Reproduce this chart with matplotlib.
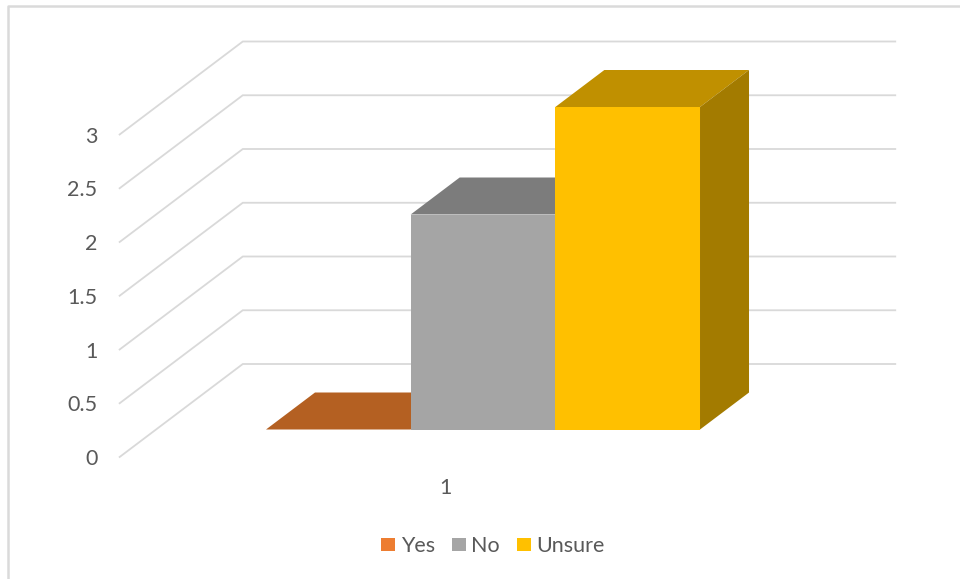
import matplotlib.pyplot as plt
from matplotlib.patches import Patch, Polygon

# ── data ──────────────────────────────────────────────────────────────────────
series = ["Yes", "No", "Unsure"]
values = [0, 2, 3]
category = "1"
ticks = [0, 0.5, 1, 1.5, 2, 2.5, 3]
tick_labels = ["0", "0.5", "1", "1.5", "2", "2.5", "3"]

front_colors = ["#ED7D31", "#A5A5A5", "#FFC000"]
top_colors = ["#B46022", "#7C7C7C", "#C09000"]
side_colors = ["#8E4B1C", "#636363", "#A37B00"]

GRID = "#D9D9D9"
TEXT = "#595959"

# ── scale: 1 bar = 144.67 px, 1 value unit = 107.5 px ─────────────────────────
X_UNIT = 144.67
Y_UNIT = 107.5
X0, Y0 = 266, 429.5
DEPTH_X = 49 / X_UNIT
DEPTH_Y = 37 / Y_UNIT


def project(x, v, d=0):
    # d = 1 is the depth of a bar, d = 0 its front face
    return x + d * DEPTH_X, v + d * DEPTH_Y


plt.rcParams["font.family"] = ["Lato", "DejaVu Sans"]

fig = plt.figure(figsize=(9.6, 5.79), dpi=100)
ax = fig.add_axes([0, 0, 1, 1])
ax.set_xlim(-X0 / X_UNIT, (960 - X0) / X_UNIT)
ax.set_ylim((Y0 - 579) / Y_UNIT, Y0 / Y_UNIT)
ax.axis("off")

# ── chart border (left and top only show in the picture) ──────────────────────
ax.plot([0.0085, 0.0085, 1], [0, 0.9895, 0.9895], transform=ax.transAxes,
        color="#DADADA", lw=1.8, clip_on=False, zorder=1)

# ── walls ─────────────────────────────────────────────────────────────────────
WALL_LEFT, WALL_RIGHT = -0.76, 3.75
D_FRONT, D_BACK = -0.743, 1.77
for t in ticks:
    xs, ys = zip(project(WALL_LEFT, t, D_FRONT),
                 project(WALL_LEFT, t, D_BACK),
                 project(WALL_RIGHT, t, D_BACK))
    ax.plot(xs, ys, color=GRID, lw=1.3, solid_joinstyle="miter", zorder=2)

# ── bars ──────────────────────────────────────────────────────────────────────
positions = list(range(len(values)))
ax.bar(positions, values, width=1, align="edge", color=front_colors, zorder=5)

for x, v, top, side in zip(positions, values, top_colors, side_colors):
    ax.add_patch(Polygon([project(x, v), project(x + 1, v),
                          project(x + 1, v, 1), project(x, v, 1)],
                         facecolor=top, edgecolor="none", zorder=4))
    if v > 0:
        ax.add_patch(Polygon([project(x + 1, 0), project(x + 1, v),
                              project(x + 1, v, 1), project(x + 1, 0, 1)],
                             facecolor=side, edgecolor="none", zorder=3 + x))

# ── labels ────────────────────────────────────────────────────────────────────
for t, lab in zip(ticks, tick_labels):
    x, y = project(WALL_LEFT, t, D_FRONT)
    ax.annotate(lab, (x, y), xytext=(-16, -1.5), textcoords="offset points",
                ha="right", va="center", fontsize=15.5, color=TEXT)

# the category label sits under the middle of the front edge of the floor
ax.annotate(category, project((WALL_LEFT + WALL_RIGHT) / 2, 0, D_FRONT),
            xytext=(0, -22.5), textcoords="offset points",
            ha="center", va="center", fontsize=15.5, color=TEXT)

# ── legend ────────────────────────────────────────────────────────────────────
handles = [Patch(facecolor=c, edgecolor="none", label=s)
           for c, s in zip(front_colors, series)]
ax.legend(handles=handles, loc="center", bbox_to_anchor=(493 / 960, 1 - 546 / 579),
          ncols=3, frameon=False, fontsize=15.5, labelcolor=TEXT,
          handlelength=0.65, handleheight=0.55, handletextpad=0.25,
          columnspacing=0.8, borderpad=0)

plt.savefig("out.png", dpi=100)
